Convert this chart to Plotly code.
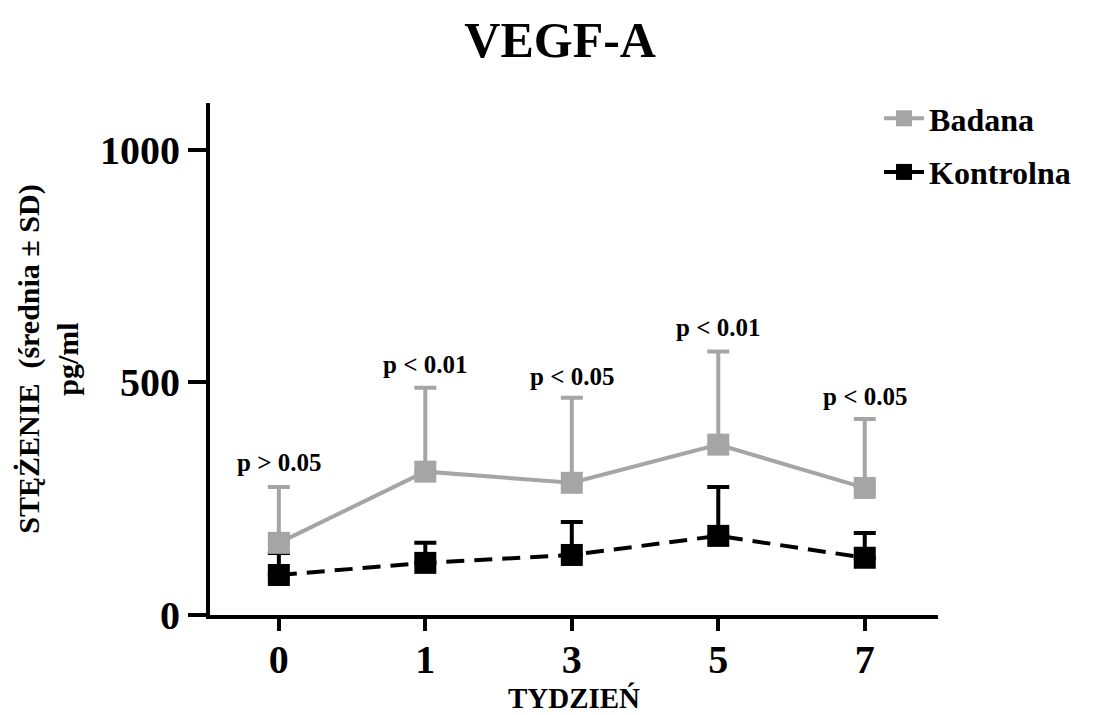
import plotly.graph_objects as go

weeks = ["0", "1", "3", "5", "7"]
badana_mean = [155, 308, 284, 366, 273]
badana_sd = [120, 180, 183, 200, 148]
kontrolna_mean = [86, 112, 129, 170, 123]
kontrolna_sd = [47, 43, 71, 105, 53]
p_labels = ["p > 0.05", "p < 0.01", "p < 0.05", "p < 0.01", "p < 0.05"]
p_label_y = [327, 538, 512, 617, 469]

FONT = "Liberation Serif, Times New Roman, serif"
GRAY = "#a5a5a5"
xs = list(range(len(weeks)))

fig = go.Figure()
fig.add_trace(go.Scatter(
    x=xs, y=kontrolna_mean, name="<b>Kontrolna</b>", mode="lines+markers",
    line=dict(color="black", width=4, dash="18px,10px"),
    marker=dict(symbol="square", size=22, color="black"),
    error_y=dict(type="data", array=kontrolna_sd, arrayminus=[0]*5, symmetric=False,
                 color="black", thickness=4, width=11),
    legendgroup="k", legendrank=2,
))
fig.add_trace(go.Scatter(
    x=xs, y=badana_mean, name="<b>Badana</b>", mode="lines+markers",
    line=dict(color=GRAY, width=4),
    marker=dict(symbol="square", size=22, color=GRAY),
    error_y=dict(type="data", array=badana_sd, arrayminus=[0]*5, symmetric=False,
                 color=GRAY, thickness=4, width=11),
    legendgroup="b", legendrank=1,
))

for x, lab, yv in zip(xs, p_labels, p_label_y):
    fig.add_annotation(x=x, y=yv, text=f"<b>{lab}</b>", showarrow=False,
                       font=dict(family=FONT, size=25, color="black"), yanchor="middle")

fig.update_layout(
    width=1089, height=707,
    margin=dict(l=202, r=159, t=95, b=100, autoexpand=False),
    paper_bgcolor="white", plot_bgcolor="white",
    title=dict(text="<b>VEGF-A</b>", x=0.507, xanchor="center", y=0.955, yanchor="middle",
               font=dict(family=FONT, size=50, color="black")),
    font=dict(family=FONT, color="black"),
    showlegend=True,
    legend=dict(x=0.919, xanchor="left", y=1.0234, yanchor="top",
                font=dict(family=FONT, size=32, color="black"),
                tracegroupgap=9, itemwidth=40, bgcolor="rgba(0,0,0,0)"),
    xaxis=dict(range=[-0.47, 4.5], tickvals=xs, ticktext=[f"<b>{w}</b>" for w in weeks],
               showline=True, linecolor="black", linewidth=4, showgrid=False, zeroline=False,
               ticks="outside", ticklen=12, tickwidth=4, tickcolor="black",
               ticklabelstandoff=-6,
               tickfont=dict(family=FONT, size=40, color="black"),
               title=dict(text="<b>TYDZIEŃ</b>", font=dict(family=FONT, size=29, color="black"),
                          standoff=0)),
    yaxis=dict(range=[0, 1100], tickvals=[0, 500, 1000], ticktext=["<b>0</b>", "<b>500</b>", "<b>1000</b>"],
               showline=True, linecolor="black", linewidth=4, showgrid=False, zeroline=False,
               ticks="outside", ticklen=18, tickwidth=4, tickcolor="black",
               tickfont=dict(family=FONT, size=40, color="black"),
               title=dict(text="<b>STĘŻENIE  (średnia ± SD)<br>pg/ml</b>",
                          font=dict(family=FONT, size=30, color="black"), standoff=14)),
)

fig.write_html("out.html")
